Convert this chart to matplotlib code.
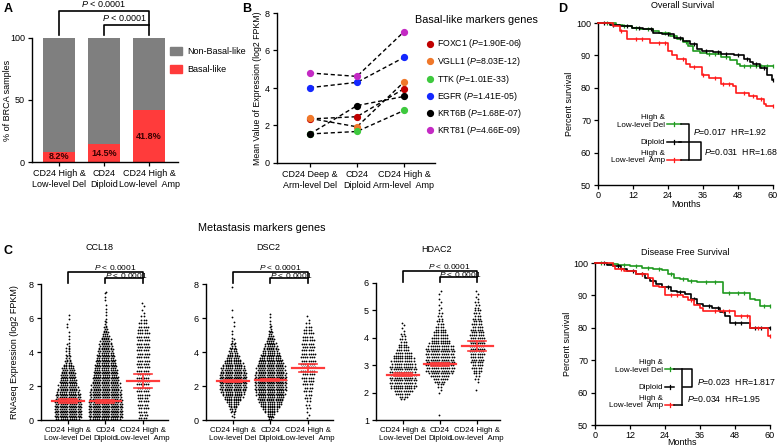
import numpy as np
import matplotlib
matplotlib.use('Agg')
import matplotlib.pyplot as plt
from matplotlib.lines import Line2D
from matplotlib.patches import Rectangle

plt.rcParams['font.family'] = ['Liberation Sans', 'DejaVu Sans']
plt.rcParams['mathtext.fontset'] = 'custom'
plt.rcParams['mathtext.rm'] = 'Liberation Sans'
plt.rcParams['mathtext.it'] = 'Liberation Sans:italic'

# ---------------- DATA ----------------
# Panel A
a_cats = ['CD24 High &\nLow-level Del', 'CD24\nDiploid', 'CD24 High &\nLow-level  Amp']
a_basal = [8.2, 14.5, 41.8]
a_nonbasal = [91.8, 85.5, 58.2]
a_labels = ['8.2%', '14.5%', '41.8%']

# Panel B
b_cats = ['CD24 Deep &\nArm-level Del', 'CD24\nDiploid', 'CD24 High &\nArm-level  Amp']
b_genes = ['FOXC1', 'VGLL1', 'TTK', 'EGFR', 'KRT6B', 'KRT81']
b_pvals = ['1.90E-06', '8.03E-12', '1.01E-33', '1.41E-05', '1.68E-07', '4.66E-09']
b_foxc1 = [2.35, 2.47, 3.96]
b_vgll1 = [2.38, 1.93, 4.32]
b_ttk = [1.55, 1.68, 2.80]
b_egfr = [4.02, 4.30, 5.63]
b_krt6b = [1.55, 3.06, 3.55]
b_krt81 = [4.80, 4.62, 7.00]

# Panel C (binned counts of samples per expression row: first row value, row step, counts)
c_cats = ['CD24 High &\nLow-level Del', 'CD24\nDiploid', 'CD24 High &\nLow-level  Amp']
c_genes = ['CCL18', 'DSC2', 'HDAC2']

ccl18_del_lo, ccl18_del_step = 0.05, 0.1
ccl18_del = [11, 12, 12, 12, 12, 12, 12, 12, 12, 12, 12, 12, 11, 11, 11, 11,
             10, 10, 9, 9, 9, 8, 8, 8, 7, 7, 7, 7, 6, 6, 6, 5,
             4, 3, 3, 2, 2, 2, 2, 1, 2, 1, 2, 1, 1, 1, 0, 1,
             0, 1, 0, 1, 0, 0, 1, 0, 1, 0, 0, 1, 0, 1]
ccl18_dip_lo, ccl18_dip_step = 0.05, 0.1
ccl18_dip = [14, 15, 15, 15, 15, 15, 15, 15, 15, 15, 15, 15, 14, 14, 14, 14,
             14, 14, 13, 13, 13, 13, 12, 12, 12, 12, 11, 11, 11, 11, 10, 10,
             10, 9, 9, 9, 8, 8, 8, 7, 7, 7, 6, 6, 6, 5, 5, 5,
             4, 4, 3, 3, 2, 2, 2, 1, 1, 1, 1, 1, 0, 1, 0, 1,
             0, 1, 0, 1, 0, 0, 1, 0, 1, 0, 1, 1]
ccl18_amp_lo, ccl18_amp_step = 0.1, 0.2
ccl18_amp = [4, 4, 4, 5, 5, 5, 5, 6, 6, 6, 6, 6, 6, 6, 6, 6, 6, 6, 6, 6, 6, 6, 6, 6, 6, 6, 5, 5,
             4, 3, 2, 1, 1, 1, 1]
ccl18_mean = [1.12, 1.10, 2.29]
ccl18_ci = [0.10, 0.10, 0.40]

dsc2_del_lo, dsc2_del_step = 0.05, 0.1
dsc2_del = [0, 1, 1, 1, 2, 2, 3, 3, 4, 5, 6, 7, 8, 9, 9, 10,
            11, 11, 12, 12, 12, 12, 12, 12, 12, 12, 12, 12, 11, 11, 11, 10,
            9, 9, 8, 7, 6, 6, 5, 4, 4, 3, 3, 2, 2, 2, 1, 1,
            1, 0, 1, 0, 1, 0, 0, 1, 0, 1, 0, 0, 1, 0, 0, 0,
            1, 0, 0, 0, 0, 0, 0, 0, 0, 0, 0, 0, 0, 0, 1]
dsc2_dip_lo, dsc2_dip_step = 0.05, 0.1
dsc2_dip = [2, 3, 3, 4, 5, 6, 7, 8, 9, 10, 11, 11, 12, 12, 13, 13,
            13, 14, 14, 14, 14, 14, 14, 14, 14, 14, 14, 14, 13, 13, 13, 13,
            12, 12, 11, 11, 10, 9, 9, 8, 7, 7, 6, 6, 5, 5, 4, 4,
            3, 3, 2, 2, 2, 1, 1, 1, 1, 0, 1, 0, 1, 0, 1]
dsc2_amp_lo, dsc2_amp_step = 0.1, 0.2
dsc2_amp = [1, 1, 1, 2, 2, 2, 3, 3, 4, 4, 5, 5, 6, 6, 7, 7, 7, 7, 7, 7, 6, 6, 6, 6, 5, 5, 4, 3,
            2, 1, 1]
dsc2_mean = [2.29, 2.36, 3.07]
dsc2_ci = [0.08, 0.08, 0.25]

hdac2_del_lo, hdac2_del_step = 1.75, 0.1
hdac2_del = [2, 4, 7, 9, 11, 12, 12, 12, 12, 12, 12, 12, 12, 11, 11, 10, 9, 8, 6, 5, 4, 3, 3,
             2, 2, 1, 1, 1, 1]
hdac2_dip_lo, hdac2_dip_step = 1.2, 0.1
hdac2_dip = [1, 0, 0, 0, 0, 0, 0, 0, 1, 1, 2, 3, 5, 7, 9, 11, 13, 13, 13, 13, 13, 13, 13, 13, 13,
             12, 10, 9, 8, 7, 6, 5, 4, 3, 3, 2, 2, 2, 1, 1, 1, 1, 1, 0, 1, 1]
hdac2_amp_lo, hdac2_amp_step = 2.1, 0.1
hdac2_amp = [1, 0, 0, 1, 2, 2, 3, 4, 5, 5, 6, 6, 6, 7, 7, 7, 7, 7, 7, 7, 7, 6, 6, 5, 5, 4, 4, 3,
             3, 3, 2, 2, 2, 1, 1, 1, 1]
hdac2_mean = [2.65, 3.03, 3.70]
hdac2_ci = [0.06, 0.06, 0.18]

# Panel D - Kaplan-Meier step points (months, % survival)
os_del_t = [0, 6.3, 8.6, 11.5, 14.3, 19, 21, 24.7, 27, 29, 31, 32.7, 35, 37.3, 42, 45.3, 47.6, 48.7, 60]
os_del_s = [100, 99.5, 99, 98.5, 98, 97.5, 97, 96, 95, 94, 93, 91.5, 90.7, 90.3, 89.5, 88.7, 87.5, 86.8, 86.8]
os_dip_t = [0, 4, 7.5, 11.5, 15.5, 19, 22, 26, 29, 31.5, 34, 35.5, 39.5, 42, 46.5, 50, 52, 53, 55.5, 58, 59.6, 60]
os_dip_s = [100, 99.5, 99, 98.5, 98, 97, 96.5, 95.5, 94.5, 93.5, 92, 91.5, 91, 90.5, 90, 89, 88, 87.5, 86, 84, 82.3, 82.3]
os_amp_t = [0, 5, 7.5, 10, 17.8, 24, 25.5, 27, 30, 31.5, 35.5, 38, 42, 46.4, 47.4, 51.6, 54.5, 56.8, 57.6, 60]
os_amp_s = [100, 99, 97.5, 95, 93.7, 91.5, 90, 88.8, 87.5, 86.5, 84, 83, 81.3, 80.5, 78.5, 77.5, 76.5, 75, 74.3, 74.3]
os_del_cens = [3, 9, 13, 17, 23, 26, 30, 38, 40, 44, 50, 52, 54, 56, 58, 60]
os_dip_cens = [2, 5, 10, 14, 18, 24, 28, 33, 37, 41, 44, 48, 51, 54, 57, 60]
os_amp_cens = [8, 13, 15, 21, 23, 29, 33, 36, 40, 43, 45, 50, 53, 56, 60]

dfs_del_t = [0, 4, 8, 12, 16, 20, 23, 25, 27, 29, 32, 35, 43.8, 53, 55, 56.5, 60]
dfs_del_s = [100, 99.7, 99.3, 99, 98.6, 98.2, 97.8, 96.5, 95.5, 95, 94.5, 94, 90.7, 89, 88.5, 86.8, 86.8]
dfs_dip_t = [0, 4, 6, 9, 11, 14, 17, 19, 21, 23, 26, 28, 31, 33, 35, 37, 40, 43, 44.6, 46.3, 53, 60]
dfs_dip_s = [100, 99.5, 99, 98, 97.5, 96.5, 95.5, 94.5, 93.5, 92.5, 91.5, 91, 90.3, 89, 87.5, 86.7, 86, 85, 83.5, 81.4, 80, 80]
dfs_amp_t = [0, 6, 7, 10, 14, 18, 20, 22, 24, 30, 32, 34, 36, 37, 48, 53, 59.4, 60]
dfs_amp_s = [100, 99, 98.2, 97.5, 96.5, 95.5, 93, 92.5, 90, 89.5, 88.5, 87, 86, 85.2, 83.5, 80, 77.5, 77.5]
dfs_del_cens = [2, 6, 10, 14, 18, 22, 26, 30, 33, 38, 41, 46, 49, 51, 58, 60]
dfs_dip_cens = [3, 8, 13, 16, 20, 25, 29, 34, 39, 42, 48, 50, 55, 57, 60]
dfs_amp_cens = [9, 16, 26, 28, 33, 41, 44, 46, 50, 52, 56, 60]

# ---------------- STYLE ----------------
W, H = 777, 448
fig = plt.figure(figsize=(W / 100, H / 100), dpi=100)
FS = 6.5
GREY = '#7f7f7f'
RED = '#ff3b3b'
b_colors = ['#c00000', '#f0782a', '#3ec93e', '#1428ff', '#000000', '#c42ac4']
KM_COLORS = ['#1f9a1f', '#000000', '#ff1a1a']


def rect(l, t, r, b):
    return [l / W, 1 - b / H, (r - l) / W, (b - t) / H]


def fx(x):
    return x / W


def fy(y):
    return 1 - y / H


def style_axis(ax):
    for s in ['top', 'right']:
        ax.spines[s].set_visible(False)
    for s in ['left', 'bottom']:
        ax.spines[s].set_linewidth(1.0)
    ax.tick_params(direction='out', length=3, width=0.9, labelsize=FS, pad=2)


def ptext(x, y, s, **kw):
    fig.text(fx(x), fy(y), s, fontsize=kw.pop('fontsize', FS), **kw)


# ---------------- PANEL A ----------------
axA = fig.add_axes(rect(32, 38, 178, 162))
xa = np.arange(3)
axA.bar(xa, a_basal, width=0.71, color=RED, zorder=2)
axA.bar(xa, a_nonbasal, bottom=a_basal, width=0.71, color=GREY, zorder=2)
for i in range(3):
    axA.text(xa[i], a_basal[i] / 2, a_labels[i], ha='center', va='center',
             fontsize=6.5, fontweight='bold', color='#3a0000')
axA.set_xlim(-0.6, 2.64)
axA.set_ylim(0, 100)
axA.set_yticks([0, 50, 100])
axA.set_xticks(xa)
axA.set_xticklabels(a_cats, fontsize=FS, linespacing=1.3)
style_axis(axA)
axA.plot([0, 0, 2, 2], [102.4, 121.8, 121.8, 102.4], color='k', lw=1.2, clip_on=False)
axA.plot([1, 1, 2], [102.4, 110.5, 110.5], color='k', lw=1.2, clip_on=False)
axA.text(1.0, 123.5, '$\\it{P}$ < 0.0001', ha='center', va='bottom', fontsize=FS, clip_on=False)
axA.text(1.45, 112.2, '$\\it{P}$ < 0.0001', ha='center', va='bottom', fontsize=FS, clip_on=False)
ptext(8, 100, '% of BRCA samples', rotation=90, ha='center', va='center')
fig.patches.append(Rectangle((fx(170), fy(55)), 12 / W, 8 / H, transform=fig.transFigure,
                             color=GREY))
fig.patches.append(Rectangle((fx(170), fy(73)), 12 / W, 8 / H, transform=fig.transFigure,
                             color=RED))
ptext(187, 51, 'Non-Basal-like', ha='left', va='center')
ptext(187, 69, 'Basal-like', ha='left', va='center')
ptext(4, 9, 'A', fontsize=9, fontweight='bold', ha='left', va='center')

# ---------------- PANEL B ----------------
axB = fig.add_axes(rect(277, 13, 435, 163))
xb = np.arange(3)
b_series = [b_foxc1, b_vgll1, b_ttk, b_egfr, b_krt6b, b_krt81]
for vals in b_series:
    axB.plot(xb, vals, color='k', lw=1.0, ls=(0, (3, 2)), zorder=2)
for vals, col in zip(b_series, b_colors):
    axB.plot(xb, vals, ls='none', marker='o', ms=4.2, color=col, mec=col, zorder=3)
axB.set_xlim(-0.7, 2.66)
axB.set_ylim(0, 8)
axB.set_yticks([0, 2, 4, 6, 8])
axB.set_xticks(xb)
axB.set_xticklabels(b_cats, fontsize=FS, linespacing=1.3)
style_axis(axB)
ptext(257, 88, 'Mean Value of Expression (log2 FPKM)', rotation=90, ha='center', va='center',
      fontsize=6.3)
ptext(242, 9, 'B', fontsize=9, fontweight='bold', ha='left', va='center')
ptext(415, 20, 'Basal-like markers genes', fontsize=7.8, ha='left', va='center')
leg_y = [44, 61.5, 79, 96.5, 113.5, 130.5]
for g, p, col, yy in zip(b_genes, b_pvals, b_colors, leg_y):
    fig.add_artist(Line2D([fx(430)], [fy(yy)], marker='o', ms=4.2, color=col, mec=col,
                          transform=fig.transFigure))
    ptext(437, yy, g + ' ($\\it{P}$=' + p + ')', ha='left', va='center', fontsize=6.3)

# ---------------- PANEL C ----------------
ptext(4, 251, 'C', fontsize=9, fontweight='bold', ha='left', va='center')
ptext(262, 228, 'Metastasis markers genes', fontsize=7.8, ha='center', va='center')
ptext(15, 352, 'RNAseq Expression (log2 FPKM)', rotation=90, ha='center', va='center')


def swarm(ax, xc, lo, step, counts, dx):
    xs, ys = [], []
    for i, n in enumerate(counts):
        if n <= 0:
            continue
        y = lo + i * step
        shift = (dx / 4.0) if (i % 2) else (-dx / 4.0)
        off = (np.arange(n) - (n - 1) / 2.0) * dx + shift
        xs.extend(xc + off)
        ys.extend([y] * n)
    ax.scatter(xs, ys, s=1.7, color='k', linewidths=0, zorder=2)


def c_panel(rc, xl, yl, yt, groups, means, cis, title, tx, ty):
    ax = fig.add_axes(rc)
    for i, (lo, step, cnt) in enumerate(groups):
        swarm(ax, i, lo, step, cnt, 0.06)
    for i in range(3):
        ax.plot([i - 0.42, i + 0.42], [means[i], means[i]], color=RED, lw=1.6, zorder=3)
        ax.plot([i, i], [means[i] - cis[i], means[i] + cis[i]], color=RED, lw=1.2, zorder=3)
        for yy in (means[i] - cis[i], means[i] + cis[i]):
            ax.plot([i - 0.24, i + 0.24], [yy, yy], color=RED, lw=1.2, zorder=3)
    ax.set_xlim(*xl)
    ax.set_ylim(*yl)
    ax.set_yticks(yt)
    ax.set_xticks([0, 1, 2])
    ax.set_xticklabels(c_cats, fontsize=5.7, linespacing=1.3)
    style_axis(ax)
    ax.tick_params(axis='x', labelsize=5.7)
    tr = ax.get_xaxis_transform()
    ax.plot([0, 0, 2, 2], [1.007, 1.088, 1.088, 1.007], color='k', lw=1.2, transform=tr,
            clip_on=False)
    ax.plot([1, 1, 2], [1.007, 1.044, 1.044], color='k', lw=1.2, transform=tr, clip_on=False)
    ax.text(1.25, 1.09, '$\\it{P}$ < 0.0001', transform=tr, ha='center', va='bottom',
            fontsize=6.0)
    ax.text(1.55, 1.03, '$\\it{P}$ < 0.0001', transform=tr, ha='center', va='bottom',
            fontsize=6.0)
    ptext(tx, ty, title, ha='center', va='center')
    return ax


c_panel(rect(41, 284, 168, 420), (-0.72, 2.667), (0, 8), [0, 2, 4, 6, 8],
        [(ccl18_del_lo, ccl18_del_step, ccl18_del), (ccl18_dip_lo, ccl18_dip_step, ccl18_dip),
         (ccl18_amp_lo, ccl18_amp_step, ccl18_amp)],
        ccl18_mean, ccl18_ci, c_genes[0], 99, 247)
c_panel(rect(206, 284, 333, 420), (-0.72, 2.667), (0, 8), [0, 2, 4, 6, 8],
        [(dsc2_del_lo, dsc2_del_step, dsc2_del), (dsc2_dip_lo, dsc2_dip_step, dsc2_dip),
         (dsc2_amp_lo, dsc2_amp_step, dsc2_amp)],
        dsc2_mean, dsc2_ci, c_genes[1], 268, 247)
c_panel(rect(376, 283, 500, 420), (-0.73, 2.62), (1, 6), [1, 2, 3, 4, 5, 6],
        [(hdac2_del_lo, hdac2_del_step, hdac2_del), (hdac2_dip_lo, hdac2_dip_step, hdac2_dip),
         (hdac2_amp_lo, hdac2_amp_step, hdac2_amp)],
        hdac2_mean, hdac2_ci, c_genes[2], 436, 249)

# ---------------- PANEL D ----------------
ptext(558, 9, 'D', fontsize=9, fontweight='bold', ha='left', va='center')


def km_panel(rc, curves, title, tpos, ylab_x, lpad):
    ax = fig.add_axes(rc)
    for (t, s, cens), col in zip(curves, KM_COLORS):
        ax.step(t, s, where='post', color=col, lw=1.2, clip_on=False, zorder=3)
        t = np.asarray(t)
        s = np.asarray(s)
        idx = np.searchsorted(t, cens, side='right') - 1
        ax.plot(cens, s[idx], ls='none', marker='|', ms=2.5, mew=0.9, color=col,
                clip_on=False, zorder=3)
    ax.set_xlim(0, 60)
    ax.set_ylim(50, 100)
    ax.set_xticks([0, 12, 24, 36, 48, 60])
    ax.set_yticks([50, 60, 70, 80, 90, 100])
    style_axis(ax)
    ax.tick_params(axis='x', pad=1.5)
    ax.set_xlabel('Months', fontsize=FS, labelpad=lpad)
    ptext(tpos[0], tpos[1], title, ha='center', va='center')
    bb = ax.get_position()
    fig.text(fx(ylab_x), bb.y0 + bb.height / 2, 'Percent survival', rotation=90,
             ha='center', va='center', fontsize=FS)
    return ax


km_panel(rect(598, 23, 773, 185),
         [(os_del_t, os_del_s, os_del_cens), (os_dip_t, os_dip_s, os_dip_cens),
          (os_amp_t, os_amp_s, os_amp_cens)],
         'Overall Survival', (683, 6), 570, 0)
km_panel(rect(595, 263, 770, 425),
         [(dfs_del_t, dfs_del_s, dfs_del_cens), (dfs_dip_t, dfs_dip_s, dfs_dip_cens),
          (dfs_amp_t, dfs_amp_s, dfs_amp_cens)],
         'Disease Free Survival', (685, 252), 568, -1.5)

km_labels = ['High &\nLow-level Del', 'Diploid', 'High &\nLow-level  Amp']


def fline(xs, ys, col='k', lw=1.1):
    fig.add_artist(Line2D([fx(x) for x in xs], [fy(y) for y in ys], color=col, lw=lw,
                          transform=fig.transFigure))


def km_legend(x0, x1, ys, label_dy):
    for lab, col, yy, dy in zip(km_labels, KM_COLORS, ys, label_dy):
        fline([x0, x1], [yy, yy], col)
        fline([(x0 + x1) / 2] * 2, [yy - 1.8, yy + 1.8], col, 0.9)
        ptext(x0 - 2, yy + dy, lab, ha='right', va='center', fontsize=5.8, linespacing=1.15)


km_legend(667, 681, [124, 142, 160], [-2.5, 0, -3])
fline([681, 689, 689, 681], [124, 124, 160, 160])
fline([679, 701, 701, 689], [142, 142, 160, 160])
ptext(693, 132, '$\\it{P}$=0.017  HR=1.92', ha='left', va='center', fontsize=6.3)
ptext(704, 152, '$\\it{P}$=0.031  HR=1.68', ha='left', va='center', fontsize=6.3)

km_legend(665, 674, [369, 387, 405], [-2.5, 0, -3])
fline([674, 692, 692, 683], [369, 369, 387, 387])
fline([682, 682], [369, 405])
fline([674, 682], [405, 405])
ptext(697, 382, '$\\it{P}$=0.023  HR=1.817', ha='left', va='center', fontsize=6.3)
ptext(687, 399, '$\\it{P}$=0.034  HR=1.95', ha='left', va='center', fontsize=6.3)

fig.savefig('out.png', dpi=100)
